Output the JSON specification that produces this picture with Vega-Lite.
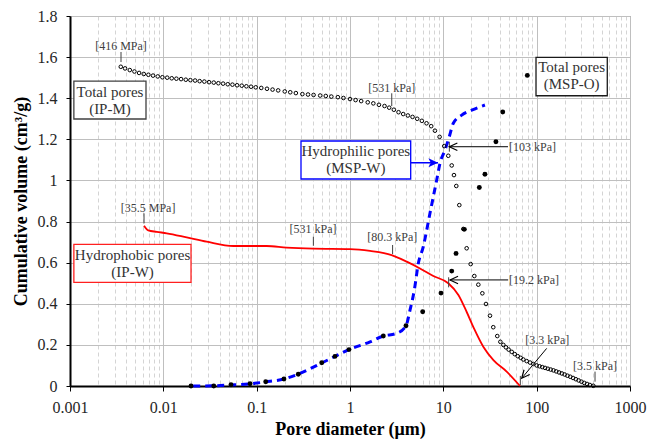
{
"$schema": "https://vega.github.io/schema/vega-lite/v6.json",
"width": 560, "height": 370,
"autosize": {"type": "none"},
"padding": {"left": 70, "top": 16, "right": 17, "bottom": 55},
"background": "white",
"config": {"font": "Liberation Serif", "view": {"stroke": "#7a7a7a", "strokeWidth": 1},
 "axis": {"labelFont": "Liberation Serif", "titleFont": "Liberation Serif"},
 "text": {"font": "Liberation Serif"}},
"datasets": {
"ipm": [
{"d":0.0035,"v":1.553},{"d":0.00389,"v":1.545},{"d":0.00437,"v":1.537},{"d":0.0049,"v":1.530},{"d":0.0055,"v":1.523},{"d":0.00617,"v":1.518},{"d":0.00692,"v":1.514},{"d":0.00776,"v":1.510},{"d":0.00871,"v":1.506},{"d":0.00977,"v":1.502},
{"d":0.011,"v":1.500},{"d":0.0123,"v":1.497},{"d":0.0138,"v":1.495},{"d":0.0155,"v":1.493},{"d":0.0174,"v":1.490},{"d":0.0195,"v":1.488},{"d":0.0219,"v":1.486},{"d":0.0245,"v":1.483},{"d":0.0275,"v":1.481},{"d":0.0309,"v":1.478},
{"d":0.0347,"v":1.476},{"d":0.0389,"v":1.473},{"d":0.0437,"v":1.471},{"d":0.049,"v":1.468},{"d":0.055,"v":1.466},{"d":0.0617,"v":1.463},{"d":0.0692,"v":1.461},{"d":0.0776,"v":1.458},{"d":0.0871,"v":1.456},{"d":0.0977,"v":1.453},
{"d":0.112,"v":1.450},{"d":0.129,"v":1.446},{"d":0.148,"v":1.442},{"d":0.170,"v":1.438},{"d":0.200,"v":1.433},{"d":0.229,"v":1.429},{"d":0.263,"v":1.425},{"d":0.309,"v":1.420},{"d":0.355,"v":1.418},{"d":0.407,"v":1.416},
{"d":0.479,"v":1.413},{"d":0.550,"v":1.411},{"d":0.631,"v":1.408},{"d":0.741,"v":1.405},{"d":0.851,"v":1.401},{"d":1.0,"v":1.396},{"d":1.148,"v":1.391},{"d":1.318,"v":1.386},{"d":1.549,"v":1.380},{"d":1.778,"v":1.375},
{"d":2.042,"v":1.368},{"d":2.344,"v":1.362},{"d":2.63,"v":1.354},{"d":2.951,"v":1.344},{"d":3.311,"v":1.332},{"d":3.715,"v":1.323},{"d":4.169,"v":1.316},{"d":4.677,"v":1.309},{"d":5.248,"v":1.300},{"d":5.888,"v":1.290},
{"d":6.607,"v":1.278},{"d":7.413,"v":1.264},{"d":8.128,"v":1.242},{"d":9.12,"v":1.212},{"d":10.23,"v":1.167},{"d":11.3,"v":1.12},{"d":12.3,"v":1.073},{"d":13.0,"v":1.026},{"d":13.77,"v":0.973},{"d":14.83,"v":0.880},
{"d":16.37,"v":0.764},{"d":17.78,"v":0.670},{"d":19.63,"v":0.593},{"d":21.48,"v":0.535},{"d":23.71,"v":0.493},{"d":26.18,"v":0.451},{"d":28.64,"v":0.399},{"d":31.62,"v":0.342},{"d":34.28,"v":0.286},{"d":37.84,"v":0.243},
{"d":40.83,"v":0.215},{"d":43.95,"v":0.200},{"d":46.88,"v":0.188},{"d":50.12,"v":0.177},{"d":54.08,"v":0.166},{"d":58.21,"v":0.155},{"d":62.66,"v":0.145},{"d":67.45,"v":0.137},{"d":71.94,"v":0.129},{"d":78.16,"v":0.121},
{"d":84.92,"v":0.114},{"d":92.04,"v":0.107},{"d":100,"v":0.100},{"d":107.2,"v":0.096},{"d":114.8,"v":0.092},{"d":123.0,"v":0.088},{"d":131.8,"v":0.084},{"d":141.3,"v":0.080},{"d":151.4,"v":0.076},{"d":162.2,"v":0.071},
{"d":173.8,"v":0.066},{"d":186.2,"v":0.061},{"d":199.5,"v":0.056},{"d":213.8,"v":0.050},{"d":229.1,"v":0.045},{"d":245.5,"v":0.039},{"d":263.0,"v":0.033},{"d":281.8,"v":0.027},{"d":302.0,"v":0.021},{"d":323.6,"v":0.015},
{"d":346.7,"v":0.010},{"d":371.5,"v":0.005},{"d":404.6,"v":0.001}
],
"mspo": [
{"d":0.0198,"v":0},{"d":0.0347,"v":0},{"d":0.0531,"v":0.006},{"d":0.0849,"v":0.011},{"d":0.125,"v":0.021},{"d":0.196,"v":0.034},{"d":0.279,"v":0.057},{"d":0.498,"v":0.113},{"d":0.69,"v":0.144},{"d":0.975,"v":0.177},
{"d":2.275,"v":0.243},{"d":3.98,"v":0.293},{"d":6.01,"v":0.361},{"d":9.44,"v":0.452},{"d":12.3,"v":0.559},{"d":13.68,"v":0.645},{"d":16.79,"v":0.762},{"d":24.3,"v":0.966},{"d":27.9,"v":1.030},{"d":36.6,"v":1.188},
{"d":43.3,"v":1.333},{"d":79.4,"v":1.511}
],
"ipw": [
{"d":0.00621,"v":0.780},{"d":0.0069,"v":0.757},{"d":0.0085,"v":0.750},{"d":0.01087,"v":0.743},{"d":0.0178,"v":0.723},{"d":0.0291,"v":0.702},{"d":0.0562,"v":0.681},{"d":0.128,"v":0.681},{"d":0.2095,"v":0.673},{"d":0.405,"v":0.668},
{"d":1.0,"v":0.666},{"d":1.64,"v":0.657},{"d":2.79,"v":0.637},{"d":4.05,"v":0.605},{"d":5.62,"v":0.572},{"d":7.81,"v":0.535},{"d":11.3,"v":0.500},{"d":14.5,"v":0.443},{"d":17.8,"v":0.360},{"d":21.3,"v":0.280},
{"d":26.8,"v":0.191},{"d":34.4,"v":0.126},{"d":47.7,"v":0.070},{"d":66.3,"v":0.0}
],
"mspw": [
{"d":0.0209,"v":0},{"d":0.0347,"v":0.001},{"d":0.0531,"v":0.005},{"d":0.0849,"v":0.011},{"d":0.125,"v":0.020},{"d":0.196,"v":0.034},{"d":0.279,"v":0.058},{"d":0.498,"v":0.112},{"d":0.69,"v":0.144},{"d":0.975,"v":0.177},
{"d":1.64,"v":0.215},{"d":2.275,"v":0.243},{"d":3.16,"v":0.256},{"d":3.98,"v":0.293},{"d":4.40,"v":0.370},{"d":4.89,"v":0.467},{"d":5.40,"v":0.597},{"d":6.10,"v":0.678},{"d":6.64,"v":0.759},{"d":7.19,"v":0.840},
{"d":7.81,"v":0.921},{"d":8.49,"v":1.002},{"d":9.20,"v":1.083},{"d":10.42,"v":1.148},{"d":11.59,"v":1.213},{"d":12.79,"v":1.278},{"d":15.74,"v":1.318},{"d":20.14,"v":1.342},{"d":27.9,"v":1.367}
],
"ticks": [
{"d":0.00352,"v":1.576,"v2":1.625},{"d":2.80,"v":1.362,"v2":1.424},{"d":0.00621,"v":0.791,"v2":0.840},{"d":0.405,"v":0.682,"v2":0.726},{"d":2.86,"v":0.642,"v2":0.686},
{"d":11.6,"v":1.140,"v2":1.188},{"d":11.4,"v":0.480,"v2":0.529},{"d":66.8,"v":0.005,"v2":0.049},{"d":422,"v":0.021,"v2":0.070}
],
"labelsC": [
{"d":0.00352,"v":1.655,"t":"[416 MPa]"},{"d":2.80,"v":1.451,"t":"[531 kPa]"},{"d":0.00686,"v":0.864,"t":"[35.5 MPa]"},{"d":0.402,"v":0.762,"t":"[531 kPa]"},{"d":2.84,"v":0.723,"t":"[80.3 kPa]"},{"d":130,"v":0.224,"t":"[3.3 kPa]"},{"d":422,"v":0.0987,"t":"[3.5 kPa]"}
],
"labelsL": [
{"d":50.5,"v":1.164,"t":"[103 kPa]"},{"d":50.5,"v":0.516,"t":"[19.2 kPa]"}
],
"shafts": [
{"d":49.3,"v":1.164,"d2":11.6,"v2":1.164},{"d":49.5,"v":0.516,"d2":11.8,"v2":0.516},{"d":128,"v":0.183,"d2":69.2,"v2":0.0375}
],
"headsL": [{"d":11.6,"v":1.164},{"d":11.8,"v":0.516}],
"headsD": [{"d":69.2,"v":0.0375}],
"blueArrow": [{"d":4.47,"v":1.086,"d2":8.77,"v2":1.086}],
"boxes": [
{"k":"IP-M","d":0.0011,"d2":0.00652,"v":1.299,"v2":1.483},
{"k":"MSP-O","d":98.4,"d2":571,"v":1.412,"v2":1.599},
{"k":"MSP-W","d":0.2985,"d2":4.47,"v":1.007,"v2":1.192},
{"k":"IP-W","d":0.0011,"d2":0.0198,"v":0.504,"v2":0.689}
],
"boxText": [
{"d":0.00268,"v":1.430,"t":"Total pores\n(IP-M)"},
{"d":237,"v":1.552,"t":"Total pores\n(MSP-O)"},
{"d":1.154,"v":1.143,"t":"Hydrophilic pores\n(MSP-W)"},
{"d":0.00468,"v":0.637,"t":"Hydrophobic pores\n(IP-W)"}
]
},
"layer": [
{
"data": {"name": "ipw"},
"mark": {"type": "line", "color": "#ff0000", "strokeWidth": 1.8, "interpolate": "monotone"},
"encoding": {
"x": {"field": "d", "type": "quantitative",
 "scale": {"type": "log", "domain": [0.001, 1000], "nice": false},
 "axis": {
  "title": "Pore diameter (μm)",
  "values": [0.001,0.002,0.003,0.004,0.005,0.006,0.007,0.008,0.009,0.01,0.02,0.03,0.04,0.05,0.06,0.07,0.08,0.09,0.1,0.2,0.3,0.4,0.5,0.6,0.7,0.8,0.9,1,2,3,4,5,6,7,8,9,10,20,30,40,50,60,70,80,90,100,200,300,400,500,600,700,800,900,1000],
  "labelExpr": "abs(log(datum.value)/LN10 - round(log(datum.value)/LN10)) < 0.001 ? format(datum.value, '~g') : ''",
  "labelOverlap": false, "labelFlush": false, "labelFontSize": 16, "labelColor": "#262626", "labelPadding": 8,
  "labelFont": "Liberation Serif", "titleFont": "Liberation Serif",
  "tickSize": 5, "tickColor": "#000000",
  "tickOpacity": {"condition": {"test": "abs(log(datum.value)/LN10 - round(log(datum.value)/LN10)) < 0.001", "value": 1}, "value": 0},
  "domainColor": "#000000", "domainWidth": 2,
  "gridColor": {"condition": {"test": "abs(log(datum.value)/LN10 - round(log(datum.value)/LN10)) < 0.001", "value": "#bfbfbf"}, "value": "#d4d4d4"},
  "gridDash": {"condition": {"test": "abs(log(datum.value)/LN10 - round(log(datum.value)/LN10)) < 0.001", "value": []}, "value": [4, 3]},
  "titleFontSize": 18, "titleFontWeight": "bold", "titleColor": "#000000", "titlePadding": 5
 }},
"y": {"field": "v", "type": "quantitative",
 "scale": {"domain": [0, 1.8], "nice": false},
 "axis": {
  "title": "Cumulative volume (cm³/g)",
  "values": [0,0.2,0.4,0.6,0.8,1,1.2,1.4,1.6,1.8],
  "format": "~g",
  "labelFont": "Liberation Serif", "titleFont": "Liberation Serif",
  "labelFontSize": 16, "labelColor": "#262626", "labelPadding": 9,
  "tickSize": 4, "tickColor": "#000000",
  "domainColor": "#000000", "domainWidth": 2,
  "gridColor": "#bfbfbf",
  "titleFontSize": 18, "titleFontWeight": "bold", "titleColor": "#000000", "titlePadding": 7
 }}
}
},
{
"data": {"name": "mspw"},
"mark": {"type": "line", "color": "#0000ff", "strokeWidth": 3, "strokeDash": [7, 5], "interpolate": "monotone"},
"encoding": {"x": {"field": "d", "type": "quantitative"}, "y": {"field": "v", "type": "quantitative"}}
},
{
"data": {"name": "ipm"},
"mark": {"type": "point", "shape": "circle", "filled": false, "color": "#000000", "size": 13, "strokeWidth": 1, "opacity": 1},
"encoding": {"x": {"field": "d", "type": "quantitative"}, "y": {"field": "v", "type": "quantitative"}}
},
{
"data": {"name": "mspo"},
"mark": {"type": "point", "shape": "circle", "filled": true, "color": "#000000", "size": 24, "opacity": 1},
"encoding": {"x": {"field": "d", "type": "quantitative"}, "y": {"field": "v", "type": "quantitative"}}
},
{
"data": {"name": "ticks"},
"mark": {"type": "rule", "color": "#404040", "strokeWidth": 1},
"encoding": {"x": {"field": "d", "type": "quantitative"}, "y": {"field": "v", "type": "quantitative"}, "y2": {"field": "v2"}}
},
{
"data": {"name": "shafts"},
"mark": {"type": "rule", "color": "#000000", "strokeWidth": 1},
"encoding": {"x": {"field": "d", "type": "quantitative"}, "y": {"field": "v", "type": "quantitative"}, "x2": {"field": "d2"}, "y2": {"field": "v2"}}
},
{
"data": {"name": "headsL"},
"mark": {"type": "point", "shape": "M1.6,-0.75L0,0L1.6,0.75", "filled": false, "color": "#000000", "size": 100, "strokeWidth": 1.2, "opacity": 1},
"encoding": {"x": {"field": "d", "type": "quantitative"}, "y": {"field": "v", "type": "quantitative"}}
},
{
"data": {"name": "headsD"},
"mark": {"type": "point", "shape": "M1.6,-0.75L0,0L1.6,0.75", "angle": 310, "filled": false, "color": "#000000", "size": 100, "strokeWidth": 1.2, "opacity": 1},
"encoding": {"x": {"field": "d", "type": "quantitative"}, "y": {"field": "v", "type": "quantitative"}}
},
{
"data": {"name": "blueArrow"},
"mark": {"type": "rule", "color": "#0000ff", "strokeWidth": 1.5},
"encoding": {"x": {"field": "d", "type": "quantitative"}, "y": {"field": "v", "type": "quantitative"}, "x2": {"field": "d2"}, "y2": {"field": "v2"}}
},
{
"data": {"name": "blueArrow"},
"mark": {"type": "point", "shape": "M0,0L-2.4,-1.1L-1.8,0L-2.4,1.1Z", "filled": true, "color": "#0000ff", "size": 64, "opacity": 1},
"encoding": {"x": {"field": "d2", "type": "quantitative"}, "y": {"field": "v2", "type": "quantitative"}}
},
{
"data": {"name": "boxes"},
"mark": {"type": "rect", "fill": "#ffffff", "strokeWidth": 1.3},
"encoding": {
 "x": {"field": "d", "type": "quantitative"}, "x2": {"field": "d2"},
 "y": {"field": "v", "type": "quantitative"}, "y2": {"field": "v2"},
 "stroke": {"field": "k", "type": "nominal", "legend": null,
  "scale": {"domain": ["IP-M", "MSP-O", "MSP-W", "IP-W"], "range": ["#404040", "#1a1a1a", "#0000ff", "#ff2020"]}}
}
},
{
"data": {"name": "boxText"},
"mark": {"type": "text", "font": "Liberation Serif", "fontSize": 15, "color": "#333333", "align": "center", "baseline": "middle", "lineBreak": "\n", "lineHeight": 17},
"encoding": {"x": {"field": "d", "type": "quantitative"}, "y": {"field": "v", "type": "quantitative"}, "text": {"field": "t"}}
},
{
"data": {"name": "labelsC"},
"mark": {"type": "text", "font": "Liberation Serif", "fontSize": 12, "color": "#404040", "align": "center", "baseline": "middle"},
"encoding": {"x": {"field": "d", "type": "quantitative"}, "y": {"field": "v", "type": "quantitative"}, "text": {"field": "t"}}
},
{
"data": {"name": "labelsL"},
"mark": {"type": "text", "font": "Liberation Serif", "fontSize": 12, "color": "#404040", "align": "left", "baseline": "middle"},
"encoding": {"x": {"field": "d", "type": "quantitative"}, "y": {"field": "v", "type": "quantitative"}, "text": {"field": "t"}}
}
]
}
